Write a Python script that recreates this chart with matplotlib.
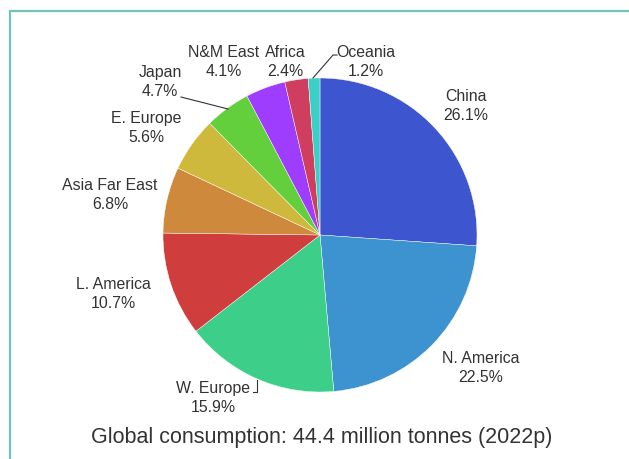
import matplotlib.pyplot as plt

plt.rcParams['font.family'] = ['Liberation Sans', 'DejaVu Sans']

regions = ['China', 'N. America', 'W. Europe', 'L. America', 'Asia Far East',
           'E. Europe', 'Japan', 'N&M East', 'Africa', 'Oceania']
shares = [26.1, 22.5, 15.9, 10.7, 6.8, 5.6, 4.7, 4.1, 2.4, 1.2]
colors = ['#3d55cf', '#3d93cf', '#3dcf89', '#cf3d3d', '#cf893d',
          '#cfb93d', '#63cf3d', '#9f3dff', '#cf3d5f', '#3dcfc5']
title = 'Global consumption: 44.4 million tonnes (2022p)'

W, H = 629, 459
# label centres in pixel coords (y down)
label_pos = [(466, 106), (481, 368), (213, 398), (113, 294), (110, 195),
             (146, 128), (160, 82), (224, 62), (285, 62), (366, 62)]

fig = plt.figure(figsize=(W / 100, H / 100), dpi=100)
ax = fig.add_axes([0, 0, 1, 1])

def py(y):
    return H - y

ax.pie(shares, colors=colors, startangle=90, counterclock=False,
       center=(320, py(235)), radius=157,
       wedgeprops=dict(edgecolor='white', linewidth=0.3))
ax.set_xlim(0, W)
ax.set_ylim(0, H)
ax.set_aspect('equal')
ax.axis('off')

for name, val, (x, y) in zip(regions, shares, label_pos):
    ax.text(x, py(y), f'{name}\n{val}%', ha='center', va='center',
            fontsize=11.4, color='#333333', linespacing=1.33)

# leader lines
lc = dict(color='#333333', lw=0.8)
ax.plot([181, 228], [py(97), py(109)], **lc)
ax.plot([337, 333, 313], [py(55), py(55), py(78)], **lc)
ax.plot([257, 257, 253], [py(380), py(392), py(392)], **lc)

ax.text(322, py(438), title, ha='center', va='center', fontsize=15.5, color='#333333')

# frame
fc = dict(color='#6ec6b9', lw=1.6, solid_capstyle='butt')
ax.plot([9.5, 9.5], [py(459), py(10)], **fc)
ax.plot([9, W], [py(10.5), py(10.5)], **fc)

fig.savefig('out.png', dpi=100)
